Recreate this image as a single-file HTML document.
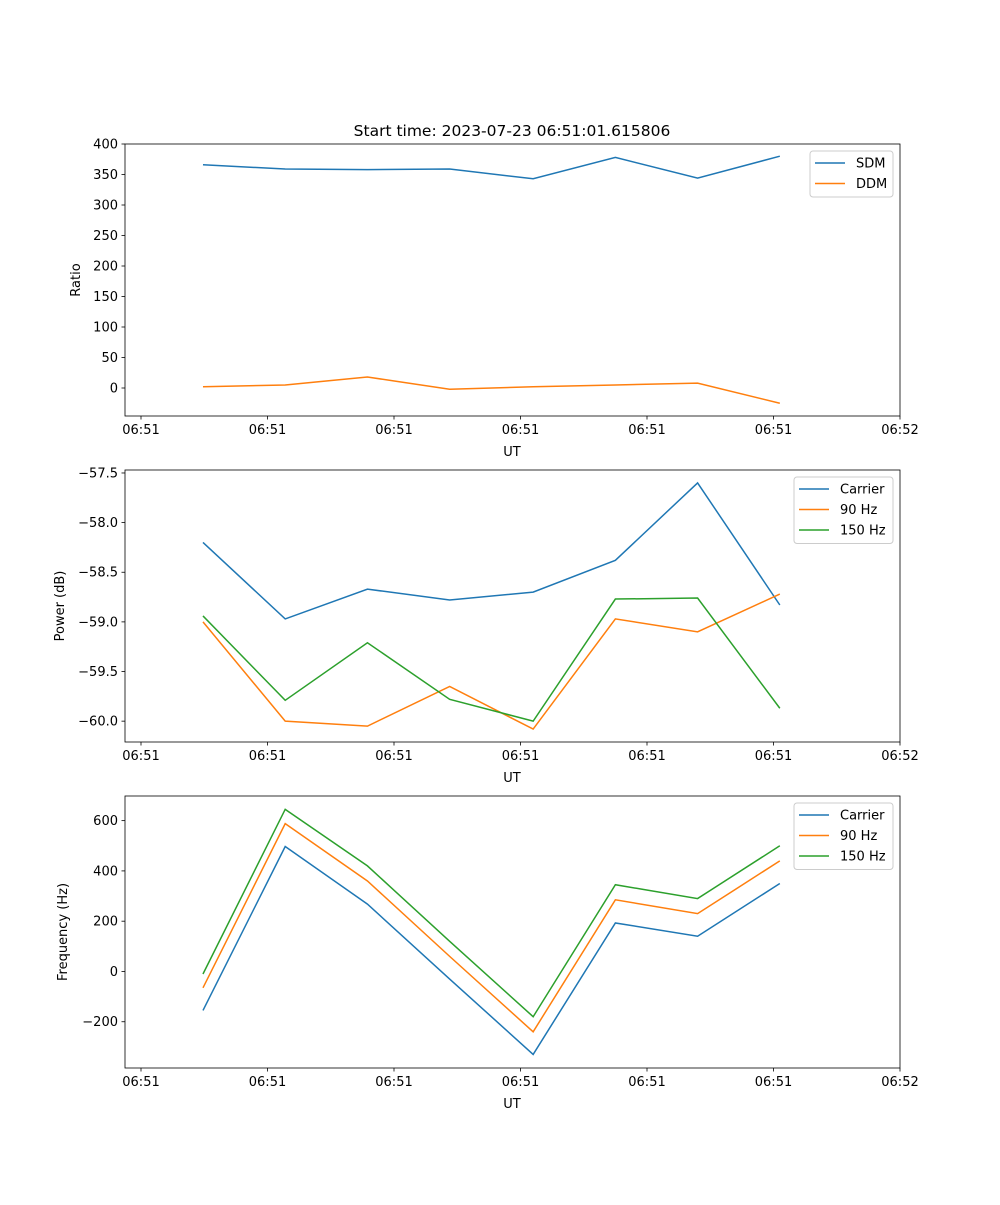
<!DOCTYPE html>
<html><head><meta charset="utf-8"><style>
body{margin:0;background:#fff}
svg text{font-family:"DejaVu Sans","Liberation Sans",sans-serif;font-size:13px;fill:#000}
</style></head><body>
<svg id="fig" width="1000" height="1200" xmlns="http://www.w3.org/2000/svg">
<rect width="1000" height="1200" fill="#fff"/>
<text x="512" y="136" text-anchor="middle" style="font-size:15.5px">Start time: 2023-07-23 06:51:01.615806</text>
</svg>
<script>
const xTickLabels = ["06:51","06:51","06:51","06:51","06:51","06:51","06:52"];
const times = [0.49,1.14,1.79,2.44,3.10,3.75,4.40,5.05];
const sdm = [366,359,358,359,343,378,344,380];
const ddm = [2,5,18,-2,2,5,8,-25];
const pwrCarrier = [-58.2,-58.97,-58.67,-58.78,-58.70,-58.38,-57.6,-58.83];
const pwr90 = [-59.0,-60.0,-60.05,-59.65,-60.08,-58.97,-59.10,-58.72];
const pwr150 = [-58.94,-59.79,-59.21,-59.78,-60.0,-58.77,-58.76,-59.87];
const frqCarrier = [-155,497,268,-30,-330,193,140,350];
const frq90 = [-65,588,360,60,-240,285,230,440];
const frq150 = [-10,645,420,120,-180,345,290,500];
const ticks1 = [0,50,100,150,200,250,300,350,400];
const ticks2 = [-60.0,-59.5,-59.0,-58.5,-58.0,-57.5];
const ticks3 = [-200,0,200,400,600];

const NS="http://www.w3.org/2000/svg", svg=document.getElementById('fig');
function mk(tag,attrs,parent){const e=document.createElementNS(NS,tag);for(const k in attrs)e.setAttribute(k,attrs[k]);(parent||svg).appendChild(e);return e;}
const L=125,R=900;
const xs=t=>141+t*126.5;
const C=['#1f77b4','#ff7f0e','#2ca02c'];
function panel(id,top,bot,ymin,ymax,ticks,fmt,ylabel,series,names,leg){
  const g=mk('g',{});
  
  
  const ys=v=>bot-(v-ymin)/(ymax-ymin)*(bot-top);
  ticks.forEach(v=>{const y=ys(v);mk('line',{x1:L-3.5,x2:L,y1:y,y2:y,stroke:'#000','stroke-width':0.8},g);
    const t=mk('text',{x:L-7,y:y+4.5,'text-anchor':'end'},g);t.textContent=fmt(v);
    });
  xTickLabels.forEach((s,i)=>{const x=xs(i);mk('line',{x1:x,x2:x,y1:bot,y2:bot+3.5,stroke:'#000','stroke-width':0.8},g);
    const t=mk('text',{x:x,y:bot+18,'text-anchor':'middle'},g);t.textContent=s;
    });
  const xl=mk('text',{x:512,y:bot+40,'text-anchor':'middle'},g);xl.textContent='UT';
  
  const cy=(top+bot)/2;
  const yl=mk('text',{x:0,y:0,'text-anchor':'middle',transform:`translate(${ylabel[1]},${cy}) rotate(-90)`},g);yl.textContent=ylabel[0];
  
  series.forEach((s,k)=>{const p=mk('polyline',{points:s.map((v,i)=>xs(times[i])+','+ys(v)).join(' '),fill:'none',stroke:C[k],'stroke-width':1.5},g);
    });
  mk('rect',{x:L,y:top,width:R-L,height:bot-top,fill:'none',stroke:'#000','stroke-width':0.8},g);
  const lg=mk('g',{},g);
  
  mk('rect',{x:leg,y:top+7,width:893-leg,height:names.length*20.5+5,rx:3,fill:'#fff',stroke:'#ccc','stroke-width':1},lg);
  names.forEach((n,k)=>{const y=top+19+k*20.5;
    mk('line',{x1:leg+5,x2:leg+35,y1:y,y2:y,stroke:C[k],'stroke-width':1.5},lg);
    const t=mk('text',{x:leg+46,y:y+4.5},lg);t.textContent=n;
    });
}
panel('ratio',144,416,-45.9,400,ticks1,v=>String(v),['Ratio',80],[sdm,ddm],['SDM','DDM'],810);
panel('power',470,742,-60.21,-57.47,ticks2,v=>'\u2212'+Math.abs(v).toFixed(1),['Power (dB)',64],[pwrCarrier,pwr90,pwr150],['Carrier','90 Hz','150 Hz'],794);
panel('frequency',796,1068,-384,698,ticks3,v=>(v<0?'\u2212':'')+Math.abs(v),['Frequency (Hz)',67],[frqCarrier,frq90,frq150],['Carrier','90 Hz','150 Hz'],794);
</script>
</body></html>
